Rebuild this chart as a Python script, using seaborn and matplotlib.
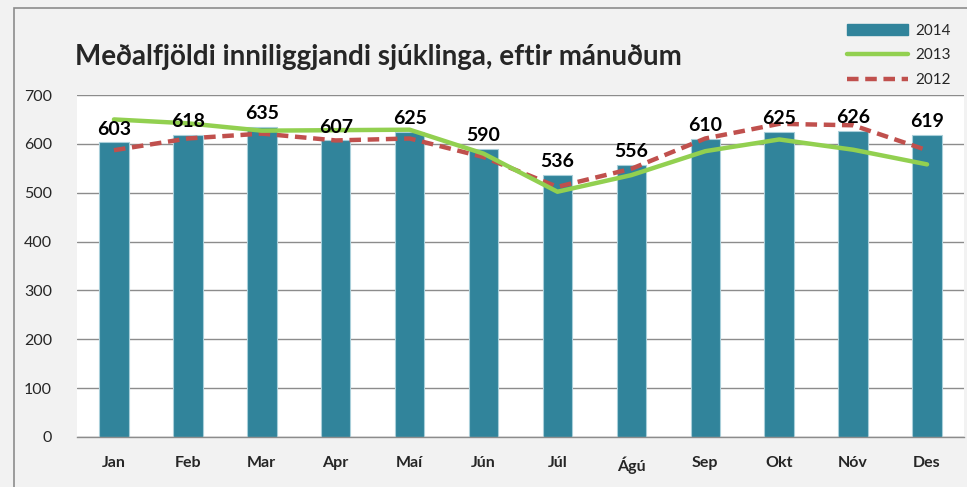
import numpy as np
import pandas as pd
import matplotlib.pyplot as plt
import matplotlib.patches as mpatches
from matplotlib.lines import Line2D
import seaborn as sns

# Data
months = ['Jan', 'Feb', 'Mar', 'Apr', 'Maí', 'Jún', 'Júl', 'Ágú', 'Sep', 'Okt', 'Nóv', 'Des']
y2014 = [603, 618, 635, 607, 625, 590, 536, 556, 610, 625, 626, 619]
y2013 = [650, 642, 627, 628, 629, 580, 502, 536, 585, 609, 588, 558]
y2012 = [587, 611, 621, 607, 611, 573, 512, 549, 611, 641, 638, 587]

sns.set_style('white')
plt.rcParams['font.family'] = ['Lato', 'DejaVu Sans']

bar_color = '#31849B'
green = '#92D050'
red = '#C0504D'

fig = plt.figure(figsize=(9.67, 4.87), dpi=100)
fig.patch.set_facecolor('#F2F2F2')
# outer chart border
fig.patches.append(mpatches.Rectangle((14 / 967, -0.1), 1.1, (487 - 8) / 487 + 0.1,
                                      transform=fig.transFigure, fill=False,
                                      edgecolor='#8C8C8C', linewidth=1.2))

ax = fig.add_axes([77 / 967, 50 / 487, 887 / 967, 342 / 487])
ax.set_facecolor('white')

df = pd.DataFrame({'month': months, '2014': y2014, '2013': y2013, '2012': y2012})
sns.barplot(data=df, x='month', y='2014', color=bar_color,
            saturation=1, ax=ax, zorder=2, edgecolor='#A9CFDA', linewidth=0.8)
# narrow the bars to match the reference
bw = 0.4
for p in ax.patches:
    c = p.get_x() + p.get_width() / 2
    p.set_width(bw)
    p.set_x(c - bw / 2)

pos = np.arange(len(months))
sns.lineplot(x=pos, y=df['2012'], color=red, linewidth=3.2, ax=ax, zorder=3,
             linestyle=(0, (2.6, 1.5)))
sns.lineplot(x=pos, y=df['2013'], color=green, linewidth=3.2, ax=ax, zorder=4)

for i, v in enumerate(y2014):
    ax.text(i, v + 10, str(v), ha='center', va='bottom', fontsize=14,
            fontweight='bold', color='black', zorder=5)

ax.set_xlim(-0.5, len(months) - 0.5)
ax.set_ylim(0, 700)
ax.set_yticks(range(0, 701, 100))
ax.yaxis.grid(True, color='#8C8C8C', linewidth=1)
ax.set_axisbelow(True)
ax.set_xlabel('')
ax.set_ylabel('')
for s in ['top', 'right', 'left']:
    ax.spines[s].set_visible(False)
ax.spines['bottom'].set_color('#8C8C8C')
ax.spines['bottom'].set_linewidth(1)

ax.set_xticks(pos)
ax.set_xticklabels(months, fontweight='bold', fontsize=11.5)
ax.set_xticks(np.arange(-0.5, len(months), 1), minor=True)
ax.tick_params(axis='x', which='major', length=0, pad=14)
ax.tick_params(axis='x', which='minor', length=6, color='#8C8C8C', width=1, direction='out')
ax.tick_params(axis='y', length=0, labelsize=11.5, pad=18)

fig.text(75 / 967, 1 - 57 / 487, 'Meðalfjöldi inniliggjandi sjúklinga, eftir mánuðum',
         fontsize=20, fontweight='bold', ha='left', va='center')

handles = [mpatches.Patch(color=bar_color),
           Line2D([0], [0], color=green, linewidth=3.2),
           Line2D([0], [0], color=red, linewidth=3.2, linestyle=(0, (2.6, 1.5)))]
fig.legend(handles, ['2014', '2013', '2012'], loc='upper right',
           bbox_to_anchor=(965 / 967, 1 - 10 / 487), frameon=False, fontsize=11,
           handlelength=4.0, handleheight=0.7, labelspacing=0.7, handletextpad=0.5)

fig.savefig('out.png', dpi=100, facecolor=fig.get_facecolor())
